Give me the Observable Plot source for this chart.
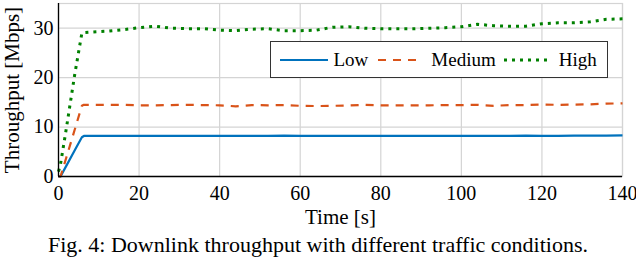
<!DOCTYPE html>
<html>
<head>
<meta charset="utf-8">
<script src="https://cdn.jsdelivr.net/npm/d3@7"></script>
<script src="https://cdn.jsdelivr.net/npm/@observablehq/plot@0.6"></script>
<style>
  html, body { margin: 0; padding: 0; background: #fff; }
  #wrap { position: relative; width: 636px; font-family: 'Liberation Serif'; }
  #caption { text-align: center; font-family: 'Liberation Serif'; font-size: 22px; line-height: 26px; color: #000; white-space: nowrap; }
  #legend { position: absolute; left: 270px; top: 41px; width: 336px; height: 35px; border: 1.5px solid #333; background: #fff;
            display: flex; align-items: center; font-family: 'Liberation Serif'; font-size: 19px; box-sizing: content-box; }
  #legend .item { display: flex; align-items: center; }
  #legend svg { display: block; }
  #chart svg text { font-family: 'Liberation Serif'; }
</style>
</head>
<body>
<div id="wrap">
  <div id="chart"></div>
  <div id="legend"></div>
  <div id="caption">Fig. 4: Downlink throughput with different traffic conditions.</div>
</div>
<script>
// ---- data ----
const seriesNames = ["Low", "Medium", "High"];
const seriesColors = ["#0072BD", "#D95319", "#008000"];
const time = [0, 0.5, 2, 4, 5.8, 6.3, 8, 12, 16, 20, 24, 28, 32, 36, 40, 44, 48, 52, 56, 60, 64, 68, 72, 76, 80, 84, 88, 92, 96, 100, 104, 108, 112, 116, 120, 124, 128, 132, 136, 140];
const low = [0, 0, 2.25, 5.25, 7.95, 8.2, 8.2, 8.2, 8.2, 8.2, 8.2, 8.2, 8.2, 8.2, 8.2, 8.2, 8.2, 8.2, 8.25, 8.2, 8.2, 8.2, 8.2, 8.2, 8.2, 8.2, 8.2, 8.2, 8.2, 8.2, 8.2, 8.2, 8.2, 8.25, 8.2, 8.2, 8.25, 8.25, 8.25, 8.3];
const medium = [0, 0, 4.0, 9.4, 14.3, 14.5, 14.5, 14.5, 14.5, 14.4, 14.4, 14.45, 14.5, 14.45, 14.4, 14.2, 14.45, 14.4, 14.45, 14.3, 14.25, 14.3, 14.35, 14.5, 14.4, 14.4, 14.4, 14.4, 14.45, 14.45, 14.5, 14.3, 14.45, 14.45, 14.55, 14.5, 14.55, 14.6, 14.75, 14.8];
const high = [1.0, 2.5, 10.0, 20.5, 29.0, 29.1, 29.2, 29.4, 29.7, 30.1, 30.4, 30.0, 29.9, 29.9, 29.6, 29.5, 29.8, 29.9, 29.5, 29.5, 29.6, 30.2, 30.3, 30.0, 29.9, 29.9, 29.9, 30.0, 30.1, 30.3, 30.8, 30.5, 30.4, 30.4, 30.9, 31.1, 31.1, 31.3, 31.8, 31.9];
const xTicks = [0, 20, 40, 60, 80, 100, 120, 140];
const yTicks = [0, 10, 20, 30];
const xLabel = "Time [s]";
const yLabel = "Throughput [Mbps]";

const seriesValues = [low, medium, high];
const dashes = [null, "8,7", "3,5"];
const data = seriesNames.flatMap((s, i) => time.map((t, j) => ({series: s, t, v: seriesValues[i][j]})));

const gridColor = "#d4d4d4";
const serif = "Liberation Serif";

const chart = Plot.plot({
  width: 636,
  height: 232,
  marginLeft: 58,
  marginRight: 14,
  marginTop: 3,
  marginBottom: 56,
  style: {fontFamily: serif, fontSize: "20px", color: "#000", background: "#fff"},
  x: {domain: [0, 140]},
  y: {domain: [0, 35]},
  marks: [
    Plot.gridX(xTicks, {stroke: gridColor, strokeOpacity: 1, strokeWidth: 1.2}),
    Plot.gridY(yTicks, {stroke: gridColor, strokeOpacity: 1, strokeWidth: 1.2}),
    Plot.frame({stroke: gridColor, strokeWidth: 1.2}),
    ...seriesNames.map((s, i) => Plot.line(data.filter(d => d.series === s), {
      x: "t", y: "v", stroke: seriesColors[i], strokeWidth: i === 2 ? 3 : 2.2,
      strokeDasharray: dashes[i], strokeLinecap: "butt", curve: "linear"
    })),
    Plot.ruleX([0], {stroke: "#000", strokeWidth: 1.3}),
    Plot.ruleY([0], {stroke: "#000", strokeWidth: 1.3}),
    Plot.axisX(xTicks, {tickSize: 0, tickPadding: 9, label: null, fontSize: 20, fontFamily: serif}),
    Plot.axisY(yTicks, {tickSize: 0, tickPadding: 5, label: null, fontSize: 20, fontFamily: serif}),
    Plot.text([xLabel], {frameAnchor: "bottom", dy: 41, fontSize: 21, lineAnchor: "middle", fontFamily: serif}),
    Plot.text([yLabel], {frameAnchor: "left", dx: -46, rotate: -90, fontSize: 21, lineAnchor: "middle", textAnchor: "middle", fontFamily: serif})
  ]
});
document.getElementById("chart").appendChild(chart);

// legend
const legend = document.getElementById("legend");
const sw = [{w: 48, ml: 8.5, mr: 6}, {w: 41, ml: 10, mr: 12}, {w: 48, ml: 8, mr: 7}];
seriesNames.forEach((s, i) => {
  const item = document.createElement("div");
  item.className = "item";
  const ns = "http://www.w3.org/2000/svg";
  const svg = document.createElementNS(ns, "svg");
  svg.setAttribute("width", sw[i].w);
  svg.setAttribute("height", 8);
  svg.style.marginLeft = sw[i].ml + "px";
  svg.style.marginRight = sw[i].mr + "px";
  const ln = document.createElementNS(ns, "line");
  ln.setAttribute("x1", 0); ln.setAttribute("x2", sw[i].w);
  ln.setAttribute("y1", 4); ln.setAttribute("y2", 4);
  ln.setAttribute("stroke", seriesColors[i]);
  ln.setAttribute("stroke-width", i === 2 ? 3 : 2.2);
  if (dashes[i]) ln.setAttribute("stroke-dasharray", dashes[i]);
  svg.appendChild(ln);
  item.appendChild(svg);
  const label = document.createElement("span");
  label.textContent = s;
  item.appendChild(label);
  legend.appendChild(item);
});
</script>
</body>
</html>
